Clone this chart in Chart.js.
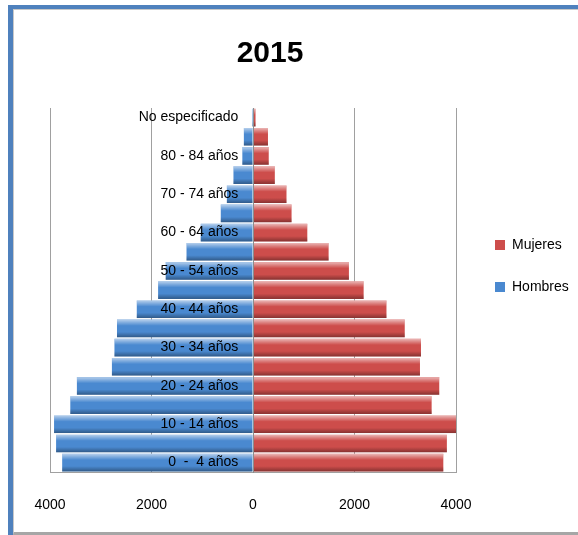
<!DOCTYPE html>
<html>
<head>
<meta charset="utf-8">
<script src="https://cdn.jsdelivr.net/npm/chart.js@4.4.1/dist/chart.umd.min.js"></script>
<style>
  html, body { margin: 0; padding: 0; background: #fff; }
  body { width: 578px; height: 535px; position: relative; overflow: hidden; }
  #outer { position: absolute; left: 8px; top: 5px; width: 600px; height: 530px; box-sizing: border-box;
           border-left: 5px solid #4F81BD; border-top: 4px solid #4F81BD; }
  #inner { position: absolute; left: 13px; top: 9px; width: 600px; height: 526px; box-sizing: border-box;
           border-left: 1px solid #c8c8c8; border-top: 1px solid #c8c8c8; border-bottom: 3px solid #a6a6a6; }
  #wrap { position: absolute; left: 0; top: 0; width: 578px; height: 535px; }
</style>
</head>
<body>
<div id="outer"></div>
<div id="inner"></div>
<div id="wrap"><canvas id="c" width="578" height="535"></canvas></div>
<script>
const titleText = '2015';
const categories = ['0  -  4 años', '5 - 9 años', '10 - 14 años', '15 - 19 años', '20 - 24 años',
  '25 - 29 años', '30 - 34 años', '35 - 39 años', '40 - 44 años', '45 - 49 años', '50 - 54 años',
  '55 - 59 años', '60 - 64 años', '65 - 69 años', '70 - 74 años', '75 - 79 años', '80 - 84 años',
  '85 y más', 'No especificado'];
const mujeres = [3750, 3820, 4010, 3520, 3670, 3290, 3310, 2990, 2630, 2180, 1890, 1490, 1070, 760, 660, 430, 310, 295, 50];
const hombres = [3760, 3880, 3920, 3600, 3470, 2780, 2730, 2680, 2290, 1870, 1720, 1310, 1030, 635, 515, 385, 210, 180, 20];
const xTicks = [-4000, -2000, 0, 2000, 4000];

const FONT = "'Liberation Sans', Arial, sans-serif";

const bevel = {
  id: 'bevel',
  afterDatasetsDraw(chart) {
    const ctx = chart.ctx, ca = chart.chartArea;
    ctx.save();
    ctx.beginPath();
    ctx.rect(ca.left, ca.top, ca.right - ca.left, ca.bottom - ca.top);
    ctx.clip();
    chart.data.datasets.forEach((ds, di) => {
      const meta = chart.getDatasetMeta(di);
      meta.data.forEach(el => {
        const p = el.getProps(['x', 'y', 'base', 'height'], true);
        const l = Math.min(p.x, p.base), r = Math.max(p.x, p.base);
        const t = p.y - p.height / 2, b = p.y + p.height / 2;
        if (r - l < 0.5) return;
        const g = ctx.createLinearGradient(0, t, 0, b);
        g.addColorStop(0, 'rgba(255,255,255,0.6)');
        g.addColorStop(0.18, 'rgba(255,255,255,0.28)');
        g.addColorStop(0.35, 'rgba(255,255,255,0)');
        g.addColorStop(0.7, 'rgba(0,0,0,0)');
        g.addColorStop(1, 'rgba(0,0,0,0.35)');
        ctx.fillStyle = g;
        ctx.fillRect(l, t, r - l, b - t);
      });
    });
    ctx.restore();
  }
};

// centre the title a little left of the canvas centre, as in the source image
const titleShift = {
  id: 'titleShift',
  afterLayout(chart) {
    const tb = chart.titleBlock;
    if (tb) { tb.left = 0; tb.right = 540; tb.width = 540; }
  }
};

new Chart(document.getElementById('c'), {
  type: 'bar',
  data: {
    labels: categories,
    datasets: [
      { label: 'Mujeres', data: mujeres, backgroundColor: '#CD4D4B', borderWidth: 0,
        categoryPercentage: 0.92, barPercentage: 1 },
      { label: 'Hombres', data: hombres.map(v => -v), backgroundColor: '#4A89D0', borderWidth: 0,
        categoryPercentage: 0.92, barPercentage: 1 }
    ]
  },
  options: {
    indexAxis: 'y',
    responsive: false,
    animation: false,
    events: [],
    layout: { padding: { left: 0, right: 0, top: 0, bottom: -3 } },
    scales: {
      x: {
        type: 'linear', stacked: true, min: xTicks[0], max: xTicks[xTicks.length - 1],
        afterBuildTicks: s => { s.ticks = xTicks.map(v => ({ value: v })); },
        ticks: { callback: v => String(Math.abs(v)), color: '#000', padding: 24.5,
                 font: { family: FONT, size: 14 } },
        grid: { color: '#a0a0a0', drawTicks: false },
        border: { display: true, color: '#a0a0a0' }
      },
      y: {
        type: 'category', stacked: true, reverse: true, position: { x: 0 },
        grid: { display: false },
        border: { display: true, color: '#8c8c8c', z: 1 },
        ticks: { display: false }
      },
      yLab: {
        type: 'category', axis: 'y', reverse: true, offset: true, position: { x: -290 },
        grid: { display: false },
        border: { display: false },
        ticks: { z: 1, autoSkip: false, color: '#000', padding: 0, font: { family: FONT, size: 14 },
                 callback: (v, i) => (i % 2 === 0 ? categories[i] : '') }
      },
      padL: {
        type: 'linear', axis: 'y', position: 'left', display: true,
        grid: { display: false }, border: { display: false }, ticks: { display: false },
        afterFit: s => { s.width = 50; }
      },
      padR: {
        type: 'linear', axis: 'y', position: 'right', display: true,
        grid: { display: false }, border: { display: false }, ticks: { display: false },
        afterFit: s => {
          const lw = s.chart.legend && s.chart.legend.width ? s.chart.legend.width : 111;
          s.width = Math.max(0, 578 - 456 - lw);
        }
      }
    },
    plugins: {
      title: { display: true, text: titleText, color: '#000',
               font: { family: FONT, size: 30, weight: 'bold' },
               padding: { top: 36, bottom: 36 } },
      legend: {
        position: 'right', align: 'start', maxWidth: 111,
        title: { display: true, text: ' ', font: { size: 10 }, padding: { top: 198, bottom: 0 } },
        labels: { boxWidth: 10, boxHeight: 10, padding: 28, color: '#000',
                  font: { family: FONT, size: 14 } }
      },
      tooltip: { enabled: false }
    }
  },
  plugins: [bevel, titleShift]
});
</script>
</body>
</html>
